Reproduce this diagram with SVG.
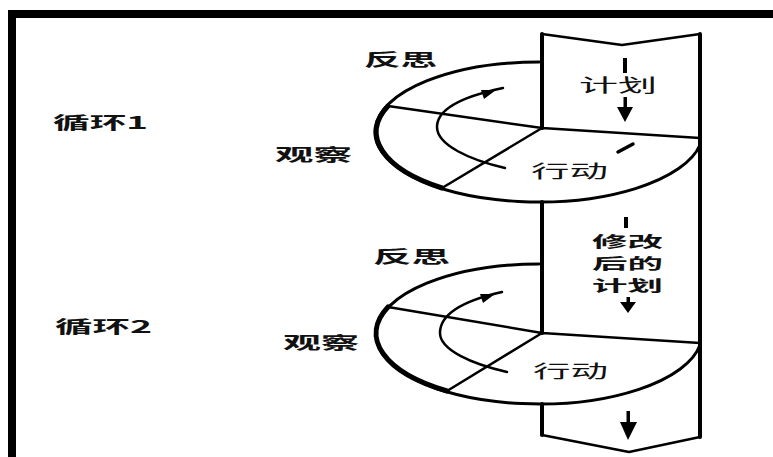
<svg xmlns="http://www.w3.org/2000/svg" width="773" height="457" viewBox="0 0 773 457">
<style>
.ln{fill:none;stroke:#000;stroke-linecap:round;stroke-linejoin:round}
.edge{stroke-width:4}
.thin{stroke-width:2.5}
.rim{stroke-width:3}
.thick{stroke-width:5}
.t{font-family:"Noto Sans CJK SC","Noto Sans",sans-serif;fill:#111;font-size:17px;font-weight:700}
.tn{font-weight:400;font-size:18px}
.ts{font-size:15px}
.head{fill:#000}
</style>
<rect width="773" height="457" fill="#fff"/>
<g id="frame">
<rect x="8" y="10" width="765" height="8" fill="#000"/>
<rect x="8" y="10" width="8" height="447" fill="#000"/>
</g>
<g id="column">
<path class="ln thin" d="M542 34 L622 45 L700 34"/>
<path class="ln edge" d="M542 34 V128 M542 202 V333 M542 404 V435 M700 34 V437"/>
<path class="ln thin" d="M542 435 L629 452 L700 437"/>
</g>
<g id="cycle1">
<path class="ln rim" d="M539 62 A164 70 0 1 0 700 145"/>
<path class="ln thick" d="M388 106 A164 70 0 0 0 442 188"/>
<path class="ln thin" d="M542 128 L700 138 M542 128 L388 106 M542 128 L442 188"/>
</g>
<g id="cycle2">
<path class="ln rim" d="M539 264 A163 70 0 1 0 700 345"/>
<path class="ln thick" d="M388 307 A163 70 0 0 0 447 391"/>
<path class="ln thin" d="M542 333 L700 343 M542 333 L388 307 M542 333 L447 391"/>
</g>
<g id="connectors">
<path class="ln thin" d="M505 168 C470 160 437 145 437 127 C437 110 460 97 503 88"/>
<polygon class="head" points="496,90 481,90 484,99"/>
<path class="ln thin" d="M507 372 C472 364 440 350 440 333 C440 315 462 301 502 292"/>
<polygon class="head" points="495,294 480,294 483,303"/>
<rect x="623" y="58" width="4" height="15" class="head"/>
<rect x="623.5" y="97" width="3.5" height="12" class="head"/>
<polygon class="head" points="617,107 633,107 625,122"/>
<path class="ln" stroke-width="3.5" d="M618 152 L633 144"/>
<rect x="624" y="217" width="4" height="11" class="head"/>
<rect x="626.5" y="297" width="3.5" height="7" class="head"/>
<polygon class="head" points="620,302 636,302 628,313"/>
<rect x="626.5" y="411" width="3.5" height="13" class="head"/>
<polygon class="head" points="620,422 637,422 628,440"/>
</g>
<g id="labels">
<text class="t" x="53" y="129" textLength="95" lengthAdjust="spacingAndGlyphs">循环1</text>
<text class="t" x="55" y="333" textLength="97" lengthAdjust="spacingAndGlyphs">循环2</text>
<text class="t" x="364" y="66" textLength="73" lengthAdjust="spacingAndGlyphs">反思</text>
<text class="t" x="373" y="263" textLength="77" lengthAdjust="spacingAndGlyphs">反思</text>
<text class="t" x="275" y="161" textLength="77" lengthAdjust="spacingAndGlyphs">观察</text>
<text class="t" x="283" y="349" textLength="76" lengthAdjust="spacingAndGlyphs">观察</text>
<text class="t tn" x="579" y="92" textLength="78" lengthAdjust="spacingAndGlyphs">计划</text>
<text class="t tn" x="531" y="178" textLength="77" lengthAdjust="spacingAndGlyphs">行动</text>
<text class="t tn" x="533" y="378" textLength="75" lengthAdjust="spacingAndGlyphs">行动</text>
<text class="t ts" x="592" y="247" textLength="71" lengthAdjust="spacingAndGlyphs">修改</text>
<text class="t ts" x="592" y="269" textLength="71" lengthAdjust="spacingAndGlyphs">后的</text>
<text class="t ts" x="592" y="291" textLength="71" lengthAdjust="spacingAndGlyphs">计划</text>
</g>
</svg>
